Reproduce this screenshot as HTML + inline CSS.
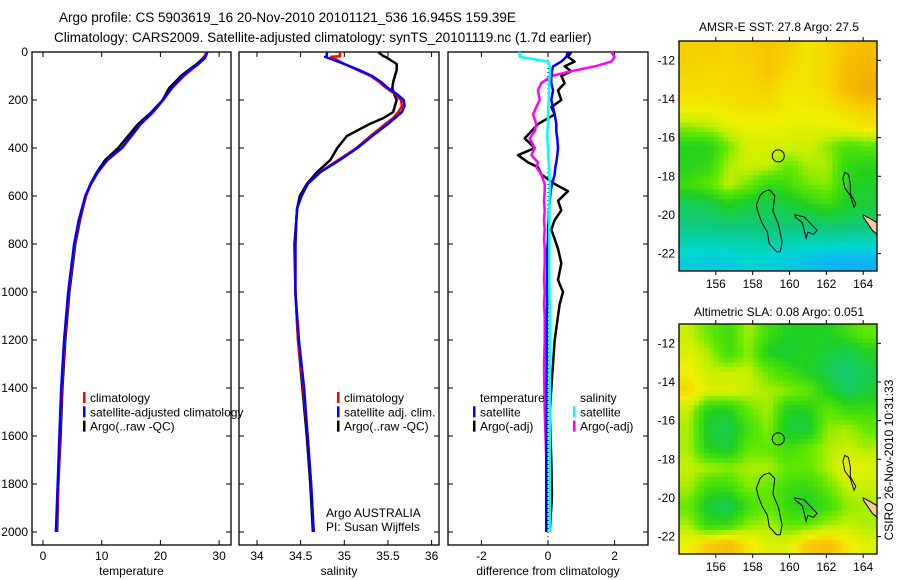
<!DOCTYPE html>
<html><head><meta charset="utf-8">
<style>
html,body{margin:0;padding:0;background:#fff;}
svg{display:block;font-family:"Liberation Sans",sans-serif;}
</style></head>
<body>
<svg id="chart" width="900" height="580" viewBox="0 0 900 580" xmlns="http://www.w3.org/2000/svg">
<text x="59" y="22" font-size="13.5">Argo profile: CS 5903619_16 20-Nov-2010 20101121_536 16.945S 159.39E</text>
<text x="54" y="42" font-size="13.5">Climatology: CARS2009. Satellite-adjusted climatology: synTS_20101119.nc (1.7d earlier)</text>
<text x="779" y="31" font-size="12" text-anchor="middle">AMSR-E SST: 27.8 Argo: 27.5</text>
<text x="779" y="316" font-size="12" text-anchor="middle">Altimetric SLA: 0.08 Argo: 0.051</text>
<text transform="translate(893,460) rotate(-90)" font-size="12" text-anchor="middle">CSIRO 26-Nov-2010 10:31:33</text>
<g id="layer"></g>
</svg>
<script>
// ---- profile data ----
const depthT = [0,25,50,75,100,150,200,250,300,350,400,450,500,550,600,700,800,1000,1200,1400,1600,1800,2000];
const tempClim = [27.8,27.5,26.5,25.2,24,22,20.5,18.8,16.7,15.1,13.5,11.0,9.4,8.2,7.3,6.2,5.4,4.4,3.7,3.2,2.9,2.6,2.3];
const tempSat  = [28.0,27.6,26.4,25.0,23.8,21.9,20.4,18.7,16.6,15.0,13.4,10.9,9.3,8.1,7.2,6.1,5.3,4.3,3.6,3.1,2.8,2.5,2.2];
const tempArgo = [28.0,27.3,26.2,24.8,23.5,21.5,20.4,18.5,16.2,14.5,12.8,10.6,9.2,8.1,7.3,6.3,5.5,4.5,3.8,3.3,3.0,2.6,2.4];
const depthS = [0,18,20,50,75,100,125,150,175,200,225,250,275,300,350,400,450,500,550,600,650,700,800,1000,1200,1400,1600,1800,2000];
const salClim = [34.95,34.95,34.85,35.0,35.15,35.3,35.4,35.48,35.58,35.65,35.66,35.62,35.56,35.47,35.3,35.14,34.93,34.72,34.58,34.51,34.46,34.45,34.44,34.44,34.47,34.53,34.58,34.62,34.65];
const salSat  = [34.8,34.8,34.78,35.0,35.17,35.32,35.42,35.5,35.6,35.68,35.69,35.66,35.58,35.5,35.32,35.15,34.95,34.73,34.58,34.51,34.46,34.45,34.44,34.44,34.48,34.54,34.58,34.62,34.65];
const salArgo = [35.39,35.45,35.47,35.6,35.6,35.58,35.56,35.55,35.57,35.6,35.58,35.56,35.45,35.29,35.03,34.92,34.84,34.69,34.57,34.49,34.46,34.45,34.43,34.44,34.47,34.52,34.57,34.61,34.64];
const depthD = [0,20,40,60,80,100,130,160,200,230,260,300,330,360,400,430,460,480,510,550,580,620,660,700,740,780,820,880,950,1000,1050,1100,1200,1300,1500,1700,1850,2000];
const diffTArgo = [0.7,0.6,0.8,0.5,0.7,0.4,0.5,0.3,0.4,0.1,0.2,-0.3,-0.5,-0.7,-0.4,-0.9,-0.6,-0.3,-0.2,0.2,0.6,0.3,0.4,0.2,0.1,0.2,0.3,0.4,0.3,0.45,0.35,0.3,0.2,0.15,0.05,0.1,0.12,0.05];
const diffSArgo = [1.9,2.0,1.9,1.4,0.7,0.1,-0.2,-0.3,-0.25,-0.35,-0.45,-0.35,-0.4,-0.55,-0.4,-0.5,-0.3,-0.35,-0.2,-0.1,-0.1,-0.12,-0.1,-0.12,-0.1,-0.12,-0.1,-0.1,-0.12,-0.1,-0.12,-0.1,-0.1,-0.12,-0.1,-0.05,-0.05,-0.05];
const diffTSat = [0.6,0.55,0.4,0.15,0.12,0.1,0.1,0.15,0.1,0.15,0.2,0.25,0.25,0.28,0.3,0.28,0.25,0.22,0.2,0.12,0.08,0.05,0.03,0.02,0.0,0.0,-0.02,-0.02,-0.03,-0.03,-0.03,-0.04,-0.04,-0.04,-0.05,-0.05,-0.05,-0.05];
const diffSSat = [-0.85,-0.85,0.0,0.05,0.05,0.05,0.04,0.03,0.02,0.01,0.0,0.0,-0.02,-0.02,0.0,0.0,0.02,0.03,0.04,0.05,0.05,0.04,0.04,0.04,0.04,0.04,0.04,0.04,0.04,0.04,0.05,0.05,0.05,0.05,0.05,0.05,0.05,0.05];
const depthTicks = [0,200,400,600,800,1000,1200,1400,1600,1800,2000];
const tempTicks = [0,10,20,30];
const salTicks = [34,34.5,35,35.5,36];
const diffTicks = [-2,0,2];
// ---- map data (rows: lat -11 -> -23, cols: lon 154 -> 164.75) ----
const sstGrid = [
[0.74,0.74,0.73,0.74,0.76,0.74,0.70,0.72,0.76,0.78],
[0.73,0.72,0.72,0.73,0.76,0.72,0.70,0.72,0.78,0.80],
[0.71,0.71,0.72,0.72,0.73,0.70,0.70,0.72,0.78,0.82],
[0.69,0.69,0.70,0.71,0.71,0.69,0.69,0.70,0.72,0.74],
[0.58,0.60,0.65,0.67,0.67,0.66,0.66,0.66,0.68,0.70],
[0.46,0.46,0.56,0.64,0.64,0.63,0.63,0.58,0.52,0.54],
[0.46,0.48,0.60,0.63,0.62,0.55,0.60,0.60,0.48,0.46],
[0.50,0.54,0.62,0.56,0.48,0.50,0.56,0.58,0.46,0.44],
[0.38,0.40,0.46,0.42,0.40,0.42,0.46,0.50,0.44,0.42],
[0.35,0.35,0.36,0.36,0.36,0.36,0.36,0.38,0.37,0.36],
[0.28,0.28,0.29,0.29,0.30,0.28,0.28,0.28,0.27,0.27],
[0.23,0.22,0.22,0.24,0.23,0.22,0.20,0.18,0.17,0.17]];
const slaGrid = [
[0.62,0.55,0.50,0.60,0.50,0.45,0.45,0.45,0.50,0.55],
[0.65,0.60,0.50,0.58,0.45,0.42,0.45,0.42,0.40,0.45],
[0.68,0.62,0.62,0.62,0.55,0.50,0.45,0.40,0.35,0.40],
[0.72,0.65,0.65,0.62,0.60,0.58,0.55,0.45,0.38,0.42],
[0.62,0.45,0.45,0.55,0.60,0.45,0.45,0.55,0.50,0.50],
[0.60,0.42,0.40,0.50,0.58,0.42,0.42,0.58,0.60,0.55],
[0.60,0.45,0.42,0.55,0.55,0.50,0.55,0.60,0.62,0.60],
[0.62,0.60,0.58,0.60,0.60,0.55,0.55,0.60,0.68,0.65],
[0.60,0.50,0.50,0.58,0.55,0.50,0.48,0.55,0.62,0.62],
[0.55,0.42,0.38,0.50,0.55,0.48,0.45,0.50,0.58,0.60],
[0.60,0.48,0.50,0.58,0.60,0.55,0.55,0.60,0.62,0.60],
[0.68,0.75,0.78,0.70,0.65,0.65,0.75,0.78,0.70,0.65]];
const lonTicks = [156,158,160,162,164];
const latTicks = [-12,-14,-16,-18,-20,-22];
const argoLon = 159.39, argoLat = -16.945;
const reef1Lon = [158.6,158.9,159.2,159.1,159.4,159.6,159.5,159.3,158.9,158.8,158.5,158.3,158.2,158.4,158.6];
const reef1Lat = [-18.8,-18.7,-19.0,-19.8,-20.5,-21.4,-21.9,-21.9,-21.5,-20.9,-20.4,-19.9,-19.5,-19.0,-18.8];
const reef2Lon = [163.0,163.2,163.3,163.3,163.6,163.5,163.3,163.0,162.9,163.0];
const reef2Lat = [-17.8,-17.9,-18.4,-18.9,-19.4,-19.6,-19.0,-18.6,-18.1,-17.8];
const reef3Lon = [160.3,160.8,161.2,161.5,161.3,161.0,160.9,160.7,160.3];
const reef3Lat = [-20.0,-20.1,-20.5,-20.8,-21.0,-20.9,-21.2,-20.4,-20.1];
const landLon = [164.0,164.4,164.75,164.75,164.5,164.0];
const landLat = [-20.0,-20.2,-20.4,-21.0,-20.8,-20.1];

const NS='http://www.w3.org/2000/svg';
const layer=document.getElementById('layer');
function mk(tag,attrs,parent){const e=document.createElementNS(NS,tag);for(const k in attrs)e.setAttribute(k,attrs[k]);(parent||layer).appendChild(e);return e;}

const yTop=52, yBot=545;
const yD = d => yTop + d*0.24;
const panels = [
 {name:'temperature-panel', x0:32, x1:231, fx:v=>43+v*5.87, ticks:tempTicks, label:'temperature'},
 {name:'salinity-panel', x0:239, x1:439, fx:v=>257+(v-34)*87.3, ticks:salTicks, label:'salinity'},
 {name:'difference-panel', x0:448, x1:648, fx:v=>548+v*33.3, ticks:diffTicks, label:'difference from climatology'}
];
panels.forEach((p,i)=>{
 const g=mk('g',{});
 
 
 const r=mk('rect',{x:p.x0,y:yTop,width:p.x1-p.x0,height:yBot-yTop,fill:'none',stroke:'#000','stroke-width':1.3},g);
 
 
 p.ticks.forEach(t=>{
  const x=p.fx(t);
  mk('line',{x1:x,x2:x,y1:yBot,y2:yBot-5,stroke:'#000'},g);
  mk('line',{x1:x,x2:x,y1:yTop,y2:yTop+5,stroke:'#000'},g);
  const tx=mk('text',{x:x,y:yBot+15,'font-size':12,'text-anchor':'middle'},g);
  tx.textContent=t;
  
  
 });
 depthTicks.forEach(d=>{
  const y=yD(d);
  mk('line',{x1:p.x0,x2:p.x0+5,y1:y,y2:y,stroke:'#000'},g);
  mk('line',{x1:p.x1,x2:p.x1-5,y1:y,y2:y,stroke:'#000'},g);
  if(i===0){const tx=mk('text',{x:p.x0-4,y:y+4,'font-size':12,'text-anchor':'end'},g);tx.textContent=d;
   
   }
 });
 const at=mk('text',{x:(p.x0+p.x1)/2,y:575,'font-size':12,'text-anchor':'middle'},g);
 at.textContent=p.label;
 
 
});
function line(depths,vals,fx,color,w,name){
 const pts=depths.map((d,i)=>fx(vals[i]).toFixed(1)+','+yD(d).toFixed(1)).join(' ');
 const e=mk('polyline',{points:pts,fill:'none',stroke:color,'stroke-width':w,'stroke-linejoin':'round'});
 
 
}
const zl=mk('line',{x1:548,x2:548,y1:yTop,y2:yBot,stroke:'#000','stroke-dasharray':'1,3','stroke-width':1});


line(depthT,tempArgo,panels[0].fx,'#000',2.5,'temp-argo-line');
line(depthT,tempClim,panels[0].fx,'#f00',2.5,'temp-climatology-line');
line(depthT,tempSat,panels[0].fx,'#00f',2.5,'temp-satellite-line');
line(depthS,salArgo,panels[1].fx,'#000',2.5,'salinity-argo-line');
line(depthS,salClim,panels[1].fx,'#f00',2.5,'salinity-climatology-line');
line(depthS,salSat,panels[1].fx,'#00f',2.5,'salinity-satellite-line');
line(depthD,diffTArgo,panels[2].fx,'#000',2.5,'temp-argo-diff-line');
line(depthD,diffSArgo,panels[2].fx,'#f0f',2.5,'salinity-argo-diff-line');
line(depthD,diffTSat,panels[2].fx,'#00f',2.5,'temp-satellite-diff-line');
line(depthD,diffSSat,panels[2].fx,'#0ff',2.5,'salinity-satellite-diff-line');

function legend(x,y,items,name){
 const g=mk('g',{});
 
 
 items.forEach((it,i)=>{
  const yy=y+i*14.3;
  if(it[1]) mk('rect',{x:x,y:yy-10,width:2.5,height:11,fill:it[1]},g);
  const t=mk('text',{x:x+7,y:yy,'font-size':12},g);
  t.textContent=it[0];
  
  
 });
}
legend(83,402,[['climatology','#f00'],['satellite-adjusted climatology','#00f'],['Argo(..raw -QC)','#000']],'temperature-legend');
legend(337,402,[['climatology','#f00'],['satellite adj. clim.','#00f'],['Argo(..raw -QC)','#000']],'salinity-legend');
legend(473,402,[['temperature',null],['satellite','#00f'],['Argo(-adj)','#000']],'diff-temp-legend');
legend(573,402,[['salinity',null],['satellite','#0ff'],['Argo(-adj)','#f0f']],'diff-salinity-legend');
const cr1=mk('text',{x:326,y:517,'font-size':12});cr1.textContent='Argo AUSTRALIA';


const cr2=mk('text',{x:326,y:531,'font-size':12});cr2.textContent='PI: Susan Wijffels';



// ---- maps ----
const stops=[[0,[0,112,255]],[0.15,[16,168,255]],[0.25,[0,216,208]],[0.35,[16,200,120]],[0.45,[32,208,32]],[0.55,[96,232,0]],[0.62,[200,240,0]],[0.68,[240,240,0]],[0.75,[248,200,0]],[0.85,[240,160,0]],[1,[230,120,0]]];
function cmap(v){for(let i=1;i<stops.length;i++){if(v<=stops[i][0]){const a=stops[i-1],b=stops[i];const f=(v-a[0])/(b[0]-a[0]);return 'rgb('+a[1].map((c,k)=>Math.round(c+(b[1][k]-c)*f)).join(',')+')';}}return 'rgb(230,120,0)';}
const lon0=154, lon1=164.75, lat0=-11, lat1=-22.9;
function drawMap(grid,top,name){
 const L=679,R=877,T=top,B=top+230;
 const fx=lon=>L+(lon-lon0)/(lon1-lon0)*(R-L);
 const fy=lat=>T+(lat-lat0)/(lat1-lat0)*(B-T);
 const g=mk('g',{});
 
 
 const rows=grid.length, cols=grid[0].length, sub=4;
 const nx=cols*sub, ny=rows*sub, cw=(R-L)/nx, ch=(B-T)/ny;
 for(let j=0;j<ny;j++)for(let i=0;i<nx;i++){
  const gx=Math.min(Math.max((i+0.5)/sub-0.5,0),cols-1), gy=Math.min(Math.max((j+0.5)/sub-0.5,0),rows-1);
  const i0=Math.floor(gx),j0=Math.floor(gy),i1=Math.min(i0+1,cols-1),j1=Math.min(j0+1,rows-1),fx_=gx-i0,fy_=gy-j0;
  const v=(grid[j0][i0]*(1-fx_)+grid[j0][i1]*fx_)*(1-fy_)+(grid[j1][i0]*(1-fx_)+grid[j1][i1]*fx_)*fy_;
  mk('rect',{x:(L+i*cw).toFixed(2),y:(T+j*ch).toFixed(2),width:(cw+0.4).toFixed(2),height:(ch+0.4).toFixed(2),fill:cmap(v)},g);
 }
 const poly=(lo,la,fill,nm)=>{const e=mk('polygon',{points:lo.map((v,k)=>fx(v).toFixed(1)+','+fy(la[k]).toFixed(1)).join(' '),fill:fill,stroke:'#000','stroke-width':1},g);
  
  };
 poly(reef1Lon,reef1Lat,'none','reef-outline');
 poly(reef2Lon,reef2Lat,'none','reef-outline');
 poly(reef3Lon,reef3Lat,'none','reef-outline');
 poly(landLon,landLat,'#f8c8a0','land');
 const c=mk('circle',{cx:fx(argoLon),cy:fy(argoLat),r:6,fill:'none',stroke:'#000','stroke-width':1},g);
 
 
 mk('rect',{x:L,y:T,width:R-L,height:B-T,fill:'none',stroke:'#000','stroke-width':1.3},g);
 lonTicks.forEach(lo=>{const x=fx(lo);mk('line',{x1:x,x2:x,y1:T,y2:T-4,stroke:'#000'},g);mk('line',{x1:x,x2:x,y1:B,y2:B+4,stroke:'#000'},g);
  const t=mk('text',{x:x,y:B+17,'font-size':12,'text-anchor':'middle'},g);t.textContent=lo;
  
  });
 latTicks.forEach(la=>{const y=fy(la);mk('line',{x1:R,x2:R+4,y1:y,y2:y,stroke:'#000'},g);
  const t=mk('text',{x:L-4,y:y+4,'font-size':12,'text-anchor':'end'},g);t.textContent=la;
  
  });
}
drawMap(sstGrid,41,'sst-map');
drawMap(slaGrid,324,'sla-map');
</script>
</body></html>
